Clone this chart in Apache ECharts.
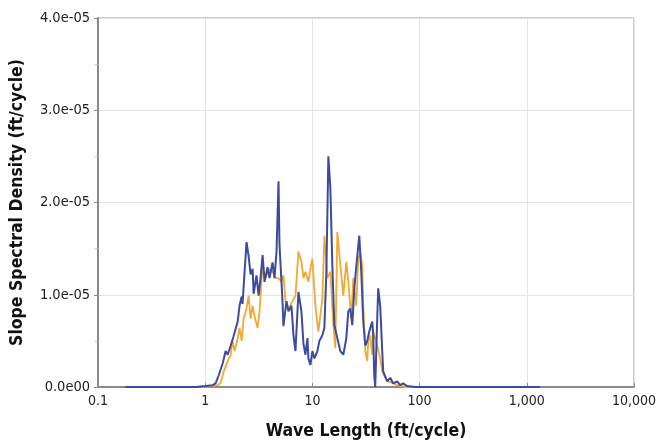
<!DOCTYPE html>
<html><head><meta charset="utf-8">
<script src="https://cdn.jsdelivr.net/npm/echarts@6/dist/echarts.min.js"></script>
<style>html,body{margin:0;padding:0;background:#fff}#c{width:667px;height:445px}</style>
</head><body><div id="c"></div>
<script>
// Wave length (ft/cycle) and slope spectral density (ft/cycle) for the blue series
var blueWave = [0.18,0.31,0.59,0.82,1.01,1.17,1.25,1.34,1.46,1.55,1.62,1.73,1.84,1.92,2.01,2.09,2.19,2.23,2.33,2.43,2.54,2.65,2.77,2.83,3.01,3.15,3.28,3.43,3.58,3.82,3.98,4.25,4.43,4.63,4.83,4.93,5.26,5.37,5.73,5.98,6.38,6.66,6.95,7.41,7.90,8.25,8.61,8.99,9.18,9.58,10.0,10.44,11.13,11.62,12.39,12.93,13.50,14.09,14.71,15.35,16.02,17.08,18.22,19.43,20.72,21.63,22.57,23.56,24.59,26.22,27.37,28.57,29.82,31.12,32.49,33.91,36.15,36.94,37.74,38.55,40.24,41.11,42.91,44.80,45.77,49.87,53.17,56.70,61.76,65.86,70.24,76.53,90.8,192,561,1320];
var blueDensity = [0,0,0,0,0.01e-5,0.02e-5,0.04e-5,0.13e-5,0.26e-5,0.39e-5,0.35e-5,0.45e-5,0.55e-5,0.53e-5,0.71e-5,0.88e-5,0.98e-5,0.90e-5,1.25e-5,1.57e-5,1.42e-5,1.22e-5,1.28e-5,1.01e-5,1.21e-5,0.99e-5,1.18e-5,1.43e-5,1.14e-5,1.30e-5,1.18e-5,1.35e-5,1.18e-5,1.47e-5,2.23e-5,1.55e-5,0.93e-5,0.66e-5,0.93e-5,0.82e-5,0.88e-5,0.56e-5,0.39e-5,1.03e-5,0.82e-5,0.47e-5,0.35e-5,0.53e-5,0.31e-5,0.24e-5,0.39e-5,0.31e-5,0.39e-5,0.50e-5,0.56e-5,0.64e-5,1.25e-5,2.50e-5,2.15e-5,1.32e-5,0.67e-5,0.53e-5,0.39e-5,0.35e-5,0.53e-5,0.82e-5,0.85e-5,0.67e-5,1.07e-5,1.42e-5,1.64e-5,1.25e-5,0.71e-5,0.45e-5,0.50e-5,0.60e-5,0.71e-5,0.56e-5,0.13e-5,0,0.74e-5,1.07e-5,0.88e-5,0.39e-5,0.17e-5,0.06e-5,0.10e-5,0.04e-5,0.06e-5,0.02e-5,0.04e-5,0.01e-5,0,0,0,0];
// Orange series
var orangeWave = [0.91,1.17,1.31,1.39,1.49,1.62,1.73,1.80,1.88,2.01,2.09,2.19,2.28,2.43,2.54,2.65,2.77,2.89,3.08,3.21,3.43,3.66,3.90,4.25,4.53,4.83,5.15,5.37,5.61,5.98,6.52,6.95,7.41,7.90,8.25,8.61,9.18,9.58,10.0,10.66,11.37,12.39,12.93,13.79,14.71,15.68,16.37,17.08,18.22,19.43,20.72,21.63,23.06,24.07,25.67,26.79,27.96,29.18,29.82,31.12,32.49,33.19,34.64,36.15,36.94,40.24,42.91,44.80,47.77,50.93,56.70,61.76,73.32,101];
var orangeDensity = [0,0.01e-5,0.02e-5,0.04e-5,0.17e-5,0.28e-5,0.35e-5,0.50e-5,0.39e-5,0.53e-5,0.64e-5,0.50e-5,0.74e-5,0.85e-5,0.99e-5,0.74e-5,0.88e-5,0.76e-5,0.64e-5,0.82e-5,1.32e-5,1.18e-5,1.28e-5,1.25e-5,1.18e-5,1.18e-5,1.14e-5,1.21e-5,0.93e-5,0.85e-5,0.93e-5,0.99e-5,1.47e-5,1.36e-5,1.18e-5,1.25e-5,1.14e-5,1.28e-5,1.39e-5,0.88e-5,0.60e-5,0.96e-5,1.64e-5,1.18e-5,1.25e-5,0.67e-5,0.42e-5,1.68e-5,1.32e-5,0.99e-5,1.36e-5,1.14e-5,0.74e-5,1.18e-5,0.88e-5,1.39e-5,1.45e-5,1.32e-5,0.88e-5,0.39e-5,0.28e-5,0.50e-5,0.56e-5,0.35e-5,0.60e-5,0.45e-5,0.31e-5,0.17e-5,0.10e-5,0.06e-5,0.04e-5,0.02e-5,0,0];
var xTickLabels = {0.1:'0.1',1:'1',10:'10',100:'100',1000:'1,000',10000:'10,000'};
var xTitle = 'Wave Length (ft/cycle)';
var yTitle = 'Slope Spectral Density (ft/cycle)';

function zip(a, b){ var r=[]; for(var i=0;i<a.length;i++) r.push([a[i], b[i]]); return r; }
var FONT = "'Liberation Sans Narrow','DejaVu Sans Condensed','Arial Narrow',sans-serif";
var chart = echarts.init(document.getElementById('c'), null, {renderer:'canvas'});
chart.setOption({
  animation:false,
  backgroundColor:'#fff',
  grid:{left:97,right:33,top:18,bottom:56,show:true,borderColor:'#999',borderWidth:1,backgroundColor:'transparent'},
  xAxis:{
    type:'log', logBase:10, min:0.1, max:10000,
    name:xTitle, nameLocation:'middle', nameGap:35,
    nameTextStyle:{fontFamily:FONT,fontWeight:'bold',fontSize:17.5,color:'#111'},
    axisLine:{show:true,lineStyle:{color:'#8a8a8a',width:2}},
    axisTick:{show:true,inside:true,length:4,lineStyle:{color:'#8a8a8a'}},
    axisLabel:{fontFamily:FONT,fontSize:14,color:'#222',margin:7,
      formatter:function(v){ var k = Math.round(Math.log10(v)); return xTickLabels[Math.pow(10,k)] || ''; }},
    splitLine:{show:true,lineStyle:{color:'#e4e4e4',width:1}}
  },
  yAxis:{
    type:'value', min:0, max:4e-5, interval:1e-5,
    name:yTitle, nameLocation:'middle', nameGap:72,
    nameTextStyle:{fontFamily:FONT,fontWeight:'bold',fontSize:17.5,color:'#111'},
    axisLine:{show:true,lineStyle:{color:'#8a8a8a',width:2}},
    axisTick:{show:true,length:4,lineStyle:{color:'#8a8a8a'}},
    minorTick:{show:true,splitNumber:2,length:3,lineStyle:{color:'#bbb'}},
    axisLabel:{fontFamily:FONT,fontSize:14.5,color:'#222',margin:8,
      formatter:function(v){ if (v===0) return '0.0e00'; return (v/1e-5).toFixed(1)+'e-05'; }},
    splitLine:{show:true,lineStyle:{color:'#e4e4e4',width:1}}
  },
  series:[
    {type:'line', data:zip(orangeWave, orangeDensity), showSymbol:false, lineStyle:{color:'#f3a832',width:1.8}, itemStyle:{color:'#f3a832'}, z:2},
    {type:'line', data:zip(blueWave, blueDensity), showSymbol:false, lineStyle:{color:'#3c4b9e',width:2}, itemStyle:{color:'#3c4b9e'}, z:3}
  ]
});
</script></body></html>
